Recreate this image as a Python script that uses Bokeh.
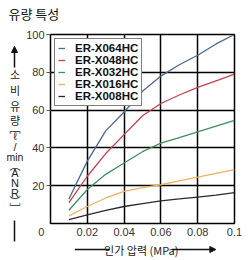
from bokeh.plotting import figure
from bokeh.layouts import column, row
from bokeh.models import Label, Legend, LegendItem, FixedTicker, Range1d, Arrow, NormalHead
from bokeh.embed import file_html
from bokeh.resources import INLINE

# ---- data ----
pressure = [0.01, 0.02, 0.03, 0.04, 0.05, 0.06, 0.07, 0.08, 0.09, 0.1]
x064 = [13, 33, 49, 59, 70, 78, 84, 89, 95, 100]
x048 = [11, 25, 37, 47, 57, 63.5, 68, 72, 75.5, 79]
x032 = [7, 18, 26, 32, 38, 42.5, 45.5, 48.5, 51.5, 54.5]
x016 = [4, 9, 13.5, 17, 19, 20.5, 22.5, 24.5, 26.5, 28.5]
x008 = [2, 4.5, 7, 9, 10.5, 12, 13, 14, 15, 16.3]
names = ["ER-X064HC", "ER-X048HC", "ER-X032HC", "ER-X016HC", "ER-X008HC"]
colors = ["#4a6a8c", "#c8404f", "#3f8f62", "#ecb25e", "#2a2a2a"]
x_ticks = [0, 0.02, 0.04, 0.06, 0.08, 0.1]
y_ticks = [20, 40, 60, 80, 100]
title_text = "유량 특성"
x_title = "인가 압력 (MPa)"
y_title_parts = ["소", "비", "유", "량", "\ufe47", "ℓ", "/", "min", "\ufe35", "A", "N", "R", "\ufe36", "\ufe48"]

KR = "Noto Sans CJK KR"
NUM = "Liberation Sans Narrow, Liberation Sans"
TXT = "#222222"
KR_PARTS = {"소", "비", "유", "량", "\ufe47", "\ufe35", "\ufe36", "\ufe48"}


def blank(w, h, xr, yr):
    f = figure(width=w, height=h, output_backend="svg", toolbar_location=None,
               x_range=Range1d(*xr), y_range=Range1d(*yr),
               x_axis_location=None, y_axis_location=None, min_border=0)
    f.grid.visible = False
    f.outline_line_color = None
    return f


# ---- title strip (canvas y 0..26) ----
ft = blank(250, 26, (0, 250), (26, 0))
ft.add_layout(Label(x=8, y=13, text=title_text, text_font=KR, text_font_size="13px",
                    text_baseline="middle", text_color="#111111"))

# ---- left strip with vertical y title (canvas x 0..23, y 26..260) ----
fl = blank(23, 234, (0, 23), (260, 26))
fl.add_layout(Arrow(x_start=14, y_start=67, x_end=14, y_end=46, line_width=1.5, line_color="#111111",
                    end=NormalHead(size=6, fill_color="#111111", line_color="#111111")))
ypos = [73, 89, 105, 119, 127, 135, 146, 156, 164, 172, 182, 192, 200, 207]
for t, yy in zip(y_title_parts, ypos):
    fnt = KR if t in KR_PARTS else "Liberation Sans"
    size = "10.5px" if t == "min" else "11px"
    fl.add_layout(Label(x=14.5, y=yy, text=t, text_font=fnt, text_font_size=size,
                        text_align="center", text_baseline="middle", text_color=TXT))
fl.add_layout(Arrow(x_start=14, y_start=220, x_end=14, y_end=241, line_width=1.5,
                    line_color="#111111", end=None))

# ---- main chart ----
p = figure(width=227, height=214, output_backend="svg", toolbar_location=None,
           x_range=Range1d(0, 0.1), y_range=Range1d(0, 100),
           min_border_left=22, min_border_right=16, min_border_top=8, min_border_bottom=16)
p.outline_line_color = "black"
p.outline_line_width = 1.5

for ax in (p.xaxis[0], p.yaxis[0]):
    ax.axis_line_color = None
    ax.minor_tick_line_color = None
    ax.major_label_text_font = NUM
    ax.major_label_text_font_size = "11px"
    ax.major_label_text_color = "#333333"
p.xaxis.ticker = FixedTicker(ticks=x_ticks)
p.yaxis.ticker = FixedTicker(ticks=y_ticks)
p.xaxis.major_tick_line_color = None
p.xaxis.major_tick_out = 0
p.xaxis.major_tick_in = 0
p.xaxis.major_label_overrides = {0: "0" + "\u00a0" * 6, 0.1: "0.1"}
p.xaxis.major_label_standoff = 2
p.yaxis.major_tick_in = 0
p.yaxis.major_tick_out = 4
p.yaxis.major_tick_line_color = "#555555"
p.yaxis.major_label_standoff = 2

p.xgrid.ticker = FixedTicker(ticks=x_ticks[1:])
p.ygrid.ticker = FixedTicker(ticks=y_ticks)
for g in (p.xgrid[0], p.ygrid[0]):
    g.grid_line_color = "black"
    g.grid_line_width = 1.5

series = [x064, x048, x032, x016, x008]
items = []
for name, col, ys in zip(names, colors, series):
    r = p.line(pressure, ys, line_color=col, line_width=1.3)
    items.append(LegendItem(label=name, renderers=[r]))

legend = Legend(items=items, location="top_left")
legend.label_text_font = "Liberation Sans"
legend.label_text_font_style = "bold"
legend.label_text_font_size = "11.5px"
legend.label_text_color = "#111111"
legend.label_height = 10
legend.glyph_height = 10
legend.glyph_width = 7
legend.spacing = -2
legend.padding = 3
legend.margin = 4
legend.label_standoff = 10
legend.border_line_color = "black"
legend.border_line_width = 1.2
legend.background_fill_alpha = 1
p.add_layout(legend)

# ---- bottom strip with x title (canvas x 23..250, y 240..260) ----
fb = blank(227, 20, (23, 250), (260, 240))
fb.add_layout(Arrow(x_start=53, y_start=249, x_end=96, y_end=249, line_width=1.3,
                    line_color="#111111", end=None))
fb.add_layout(Label(x=135, y=249, text=x_title, text_font=KR, text_font_size="11px",
                    text_align="center", text_baseline="middle", text_color=TXT))
fb.add_layout(Arrow(x_start=173, y_start=249, x_end=227, y_end=249, line_width=1.3,
                    line_color="#111111",
                    end=NormalHead(size=6, fill_color="#111111", line_color="#111111")))

layout = column(ft, row(fl, column(p, fb)))
open("out.html", "w").write(file_html(layout, INLINE))
